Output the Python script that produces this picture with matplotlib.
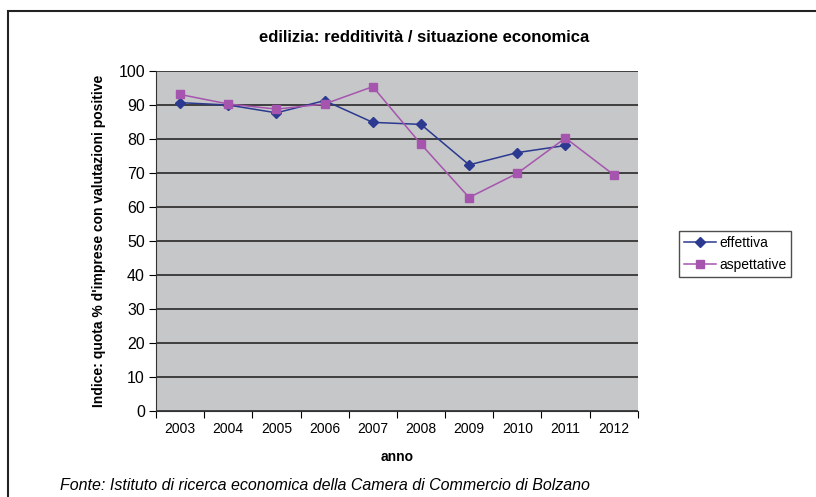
import numpy as np
import matplotlib
matplotlib.use('Agg')
import matplotlib.pyplot as plt
from matplotlib.patches import Rectangle

plt.rcParams['font.family'] = ['Liberation Sans', 'DejaVu Sans']

anni = ['2003', '2004', '2005', '2006', '2007', '2008', '2009', '2010', '2011', '2012']
effettiva = [90.7, 90.0, 87.7, 91.3, 84.9, 84.3, 72.4, 76.0, 78.1, np.nan]
aspettative = [93.1, 90.3, 88.8, 90.3, 95.4, 78.5, 62.8, 69.9, 80.3, 69.5]

fig = plt.figure(figsize=(8.16, 4.97), dpi=100)
ax = fig.add_axes([0.1912, 0.1730, 0.5903, 0.6841])

# outer frame of the chart
fig.patches.append(Rectangle((8/816, -0.1), 1.2, 1 - 11/497 + 0.1, transform=fig.transFigure,
                             fill=False, edgecolor='#222222', linewidth=1.5))

x = np.arange(len(anni))
ax.set_facecolor('#c6c7c9')
ax.plot(x, effettiva, color='#2b3990', marker='D', markersize=5, linewidth=1.1, label='effettiva')
ax.plot(x, aspettative, color='#a555ae', marker='s', markersize=6, linewidth=1.1, label='aspettative')

ax.set_xlim(-0.5, len(anni) - 0.5)
ax.set_ylim(0, 100)
ax.set_yticks(np.arange(0, 101, 10))
ax.yaxis.grid(True, color='#1a1a1a', linewidth=1.1)
ax.set_axisbelow(True)
ax.set_xticks(np.arange(-0.5, len(anni), 1))
ax.set_xticklabels([])
ax.set_xticks(x, minor=True)
ax.set_xticklabels(anni, minor=True, fontsize=10)
ax.tick_params(axis='x', which='minor', length=0, pad=8)
ax.tick_params(axis='x', which='major', length=5, direction='out')
ax.tick_params(axis='y', length=5, direction='out', labelsize=11.5, pad=3)

for s in ['top', 'right']:
    ax.spines[s].set_visible(False)
ax.spines['left'].set_color('#333333')
ax.spines['bottom'].set_color('#333333')

# title is centred on the whole chart area, not on the plot
ax.set_title('edilizia: redditività / situazione economica', fontsize=12, fontweight='bold',
             pad=21, x=0.556)
ax.set_xlabel('anno', fontsize=10, fontweight='bold', labelpad=10)
ax.set_ylabel("Indice: quota % d'imprese con valutazioni positive", fontsize=10, fontweight='bold', labelpad=9)

leg = ax.legend(loc='upper left', bbox_to_anchor=(1.0857, 0.529), borderaxespad=0, frameon=True,
                fancybox=False, edgecolor='#222222', fontsize=10, handlelength=2.3, handletextpad=0.25,
                borderpad=0.35, labelspacing=0.6)
leg.get_frame().set_linewidth(1.0)

fig.text(60/816, 1 - 486/497, 'Fonte: Istituto di ricerca economica della Camera di Commercio di Bolzano',
         fontsize=11.5, style='italic', va='center')

fig.savefig('out.png', dpi=100)
